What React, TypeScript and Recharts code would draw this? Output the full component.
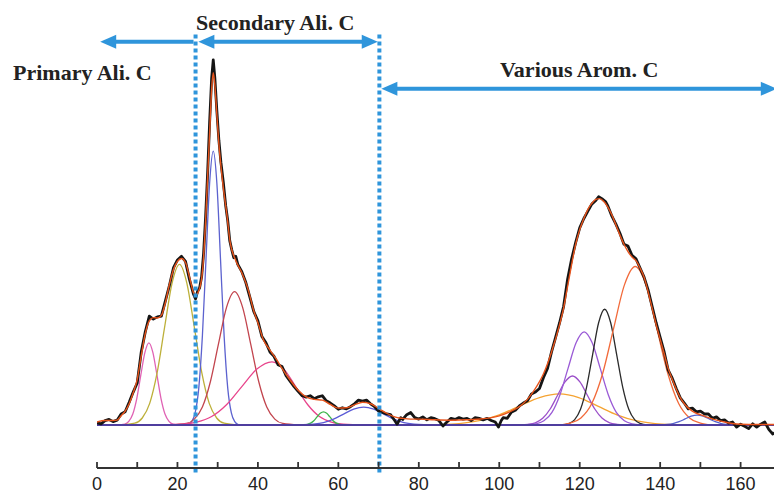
import { LineChart, Line, XAxis, YAxis, ReferenceLine } from "recharts";

// ppm ticks (minor every 10, labelled every 20)
const ppmTicks = [0, 10, 20, 30, 40, 50, 60, 70, 80, 90, 100, 110, 120, 130, 140, 150, 160];

// measured 13C spectrum [ppm, intensity]
const measured: [number, number][] = [
  [0, 0.006], [1, 0.003], [2, 0.012], [3, 0.015], [4, 0.009], [5, 0.013], [6, 0.03], [7, 0.036],
  [8, 0.062], [9, 0.09], [10, 0.115], [11, 0.2], [12, 0.255], [13, 0.298], [14, 0.29], [15, 0.296],
  [16, 0.298], [17, 0.34], [18, 0.382], [19, 0.43], [20, 0.452], [21, 0.462], [22, 0.448], [23, 0.398],
  [24, 0.358], [24.5, 0.345], [25, 0.366], [25.5, 0.375], [26, 0.405], [26.5, 0.47], [27, 0.57],
  [27.5, 0.69], [28, 0.83], [28.5, 0.95], [28.9, 1.0], [29.3, 0.95], [29.8, 0.86], [30.3, 0.78],
  [30.8, 0.72], [31.4, 0.665], [32, 0.6], [32.5, 0.56], [33, 0.505], [33.5, 0.48], [34, 0.458],
  [34.5, 0.462], [35, 0.44], [36, 0.42], [37, 0.39], [38, 0.35], [39, 0.31], [40, 0.285], [41, 0.242],
  [42, 0.225], [43, 0.2], [44, 0.188], [45, 0.165], [46, 0.16], [47, 0.135], [48, 0.12], [49, 0.105],
  [50, 0.092], [51, 0.08], [52, 0.076], [53, 0.08], [54, 0.072], [55, 0.077], [56, 0.08], [57, 0.066],
  [58, 0.06], [59, 0.052], [60, 0.043], [61, 0.047], [62, 0.044], [63, 0.05], [64, 0.058], [65, 0.068],
  [66, 0.065], [67, 0.068], [68, 0.058], [69, 0.05], [70, 0.038], [71, 0.034], [72, 0.03], [73, 0.028],
  [74, 0.012], [74.6, 0.002], [75.5, 0.02], [76, 0.015], [77, 0.028], [78, 0.034], [79, 0.02],
  [80, 0.016], [81, 0.022], [82, 0.014], [83, 0.02], [84, 0.017], [85, 0.012], [86, -0.003], [87, 0.008],
  [88, 0.018], [89, 0.015], [90, 0.02], [91, 0.016], [92, 0.018], [93, 0.012], [94, 0.02], [95, 0.018],
  [96, 0.014], [97, 0.018], [98, 0.012], [99, 0.008], [99.8, -0.006], [100.5, 0.012], [101, 0.02],
  [102, 0.018], [103, 0.035], [104, 0.04], [105, 0.052], [106, 0.06], [107, 0.066], [108, 0.085],
  [109, 0.09], [110, 0.1], [111, 0.13], [112, 0.155], [113, 0.2], [114, 0.24], [115, 0.28], [116, 0.325],
  [117, 0.4], [118, 0.455], [119, 0.5], [120, 0.54], [121, 0.565], [122, 0.585], [123, 0.605],
  [124, 0.615], [124.7, 0.625], [125.5, 0.62], [126.4, 0.612], [127, 0.6], [128, 0.572], [129, 0.55],
  [130, 0.525], [131, 0.495], [132, 0.49], [133, 0.465], [134, 0.455], [135, 0.43], [136, 0.405],
  [137, 0.37], [138, 0.325], [139, 0.28], [140, 0.24], [141, 0.2], [142, 0.15], [143, 0.128], [144, 0.1],
  [145, 0.074], [146, 0.06], [147, 0.044], [148, 0.046], [149, 0.036], [150, 0.038], [151, 0.03],
  [152, 0.03], [153, 0.018], [154, 0.022], [155, 0.012], [156, 0.014], [157, 0.005], [158, 0.008],
  [159, -0.006], [160, 0.002], [161, -0.004], [162, -0.01], [163, 0.003], [164, -0.006], [165, 0.002],
  [166, 0.008], [167, -0.012], [168, -0.025], [168.3, -0.02],
];

// overall fitted envelope
const fitted: [number, number][] = [
  [0, 0.008], [2, 0.012], [4, 0.012], [5, 0.013], [6, 0.025], [7, 0.038], [8, 0.058], [9, 0.088],
  [10, 0.125], [11, 0.19], [12, 0.25], [13, 0.285], [14, 0.294], [15, 0.293], [16, 0.3], [17, 0.335],
  [18, 0.385], [19, 0.425], [20, 0.448], [21, 0.456], [22, 0.445], [23, 0.405], [24, 0.362],
  [24.5, 0.354], [25, 0.36], [26, 0.4], [26.5, 0.46], [27, 0.56], [27.5, 0.68], [28, 0.8], [28.5, 0.92],
  [28.9, 0.965], [29.3, 0.93], [29.8, 0.85], [30.3, 0.77], [30.8, 0.71], [31.4, 0.65], [32.3, 0.575],
  [33.1, 0.5], [34.3, 0.455], [36, 0.417], [37.6, 0.37], [38.9, 0.315], [40, 0.28], [41.3, 0.235],
  [43, 0.205], [44.7, 0.178], [46, 0.155], [48, 0.123], [50, 0.095], [52, 0.077], [54, 0.07],
  [56, 0.068], [58, 0.056], [60, 0.046], [62, 0.047], [64, 0.055], [66, 0.062], [68, 0.058], [70, 0.045],
  [72, 0.032], [74, 0.022], [76, 0.018], [78, 0.016], [80, 0.016], [84, 0.014], [88, 0.013], [92, 0.014],
  [96, 0.017], [100, 0.025], [103, 0.038], [105, 0.05], [107, 0.07], [109, 0.1], [111, 0.14], [113, 0.2],
  [115, 0.275], [116, 0.32], [117, 0.38], [118, 0.44], [119, 0.495], [120, 0.535], [121, 0.565],
  [122, 0.59], [123, 0.607], [124, 0.618], [125, 0.62], [126, 0.612], [127, 0.597], [128, 0.575],
  [129, 0.548], [130, 0.52], [131, 0.495], [132, 0.475], [133, 0.46], [134, 0.45], [135, 0.43],
  [136, 0.405], [137, 0.365], [138, 0.32], [139, 0.275], [140, 0.235], [141, 0.195], [142, 0.155],
  [143, 0.125], [144, 0.098], [145, 0.075], [146, 0.058], [147, 0.046], [148, 0.038], [149, 0.032],
  [150, 0.028], [152, 0.02], [154, 0.013], [156, 0.008], [158, 0.004], [160, 0.002], [164, 0.001],
  [168.3, 0.001],
];

// deconvoluted peaks
const peak13: [number, number][] = [
  [4.9, 0], [6.9, 0.0025], [7.9, 0.0099], [8.9, 0.03], [9.9, 0.073], [10.9, 0.137], [11.9, 0.198],
  [12.9, 0.225], [13.9, 0.198], [14.9, 0.137], [15.9, 0.073], [16.9, 0.03], [17.9, 0.0099], [18.9, 0.0025], [20.9, 0],
];
const peak20: [number, number][] = [
  [5.7, 0], [9.4, 0.0048], [11.25, 0.019], [13.1, 0.059], [14.95, 0.143], [16.8, 0.267], [18.65, 0.388],
  [20.5, 0.44], [22.35, 0.388], [24.2, 0.267], [26.05, 0.143], [27.9, 0.059], [29.75, 0.019], [31.6, 0.0048], [35.3, 0],
];
const peak29: [number, number][] = [
  [22.6, 0], [23.5, 0.0083], [24.4, 0.033], [25.3, 0.101], [26.2, 0.244], [27.1, 0.455], [28.0, 0.662],
  [28.9, 0.75], [29.8, 0.662], [30.7, 0.455], [31.6, 0.244], [32.5, 0.101], [33.4, 0.033], [34.3, 0.0083], [35.2, 0],
];
const peak34: [number, number][] = [
  [18.2, 0], [22.2, 0.004], [24.2, 0.016], [26.2, 0.049], [28.2, 0.119], [30.2, 0.222], [32.2, 0.322],
  [34.2, 0.365], [36.2, 0.322], [38.2, 0.222], [40.2, 0.119], [42.2, 0.049], [44.2, 0.016], [46.2, 0.004], [50.2, 0],
];
const peak43: [number, number][] = [
  [13.5, 0], [21, 0.0019], [24.75, 0.0076], [28.5, 0.023], [32.25, 0.056], [36, 0.105], [39.75, 0.153],
  [43.5, 0.173], [46.45, 0.153], [49.4, 0.105], [52.35, 0.056], [55.3, 0.023], [58.25, 0.0076], [61.2, 0.0019], [67.1, 0],
];
const peak56: [number, number][] = [
  [50.7, 0], [51.5, 0.0004], [52.3, 0.0016], [53.1, 0.0049], [53.9, 0.0117], [54.7, 0.0219], [55.5, 0.0318],
  [56.3, 0.036], [57.1, 0.0318], [57.9, 0.0219], [58.7, 0.0117], [59.5, 0.0049], [60.3, 0.0016], [61.1, 0.0004], [61.9, 0],
];
const peak66: [number, number][] = [
  [48.8, 0], [51.3, 0.0005], [53.8, 0.0022], [56.3, 0.0066], [58.8, 0.0159], [61.3, 0.0297], [63.8, 0.0432],
  [66.3, 0.049], [68.8, 0.0432], [71.3, 0.0297], [73.8, 0.0159], [76.3, 0.0066], [78.8, 0.0022], [81.3, 0.0005], [83.8, 0],
];
const peak115: [number, number][] = [
  [80, 0], [85, 0.0009], [90, 0.0037], [95, 0.0115], [100, 0.0276], [105, 0.0516], [110, 0.075],
  [115, 0.085], [119.75, 0.075], [124.5, 0.0516], [129.25, 0.0276], [134, 0.0115], [138.75, 0.0037], [143.5, 0.0009], [148, 0],
];
const peak118: [number, number][] = [
  [105.3, 0], [107.1, 0.0015], [108.95, 0.0059], [110.8, 0.0181], [112.65, 0.0436], [114.5, 0.0813], [116.35, 0.118],
  [118.2, 0.134], [120.05, 0.118], [121.9, 0.0813], [123.75, 0.0436], [125.6, 0.0181], [127.45, 0.0059], [129.3, 0.0015], [131.1, 0],
];
const peak121: [number, number][] = [
  [107.1, 0], [109.1, 0.0028], [111.1, 0.0112], [113.1, 0.0344], [115.1, 0.0829], [117.1, 0.155], [119.1, 0.225],
  [121.1, 0.255], [123.1, 0.225], [125.1, 0.155], [127.1, 0.0829], [129.1, 0.0344], [131.1, 0.0112], [133.1, 0.0028], [135.1, 0],
];
const peak126: [number, number][] = [
  [115.7, 0], [117.2, 0.0035], [118.7, 0.0139], [120.2, 0.0428], [121.7, 0.103], [123.2, 0.192], [124.7, 0.28],
  [126.2, 0.317], [127.7, 0.28], [129.2, 0.192], [130.7, 0.103], [132.2, 0.0428], [133.7, 0.0139], [135.2, 0.0035], [136.7, 0],
];
const peak134: [number, number][] = [
  [114.9, 0], [117.6, 0.0048], [120.3, 0.0191], [123, 0.0586], [125.7, 0.141], [128.4, 0.263], [131.1, 0.383],
  [133.8, 0.434], [136.5, 0.383], [139.2, 0.263], [141.9, 0.141], [144.6, 0.0586], [147.3, 0.0191], [150, 0.0048], [152.7, 0],
];
const peak149: [number, number][] = [
  [138.7, 0], [140.2, 0.0003], [141.7, 0.0012], [143.2, 0.0036], [144.7, 0.0088], [146.2, 0.0164], [147.7, 0.0238],
  [149.2, 0.027], [150.7, 0.0238], [152.2, 0.0164], [153.7, 0.0088], [155.2, 0.0036], [156.7, 0.0012], [158.2, 0.0003], [159.7, 0],
];
const baseline: [number, number][] = [[0, 0], [168.3, 0]];

const components = [
  { name: "p13", pts: peak13, color: "#E062B4" },
  { name: "p20", pts: peak20, color: "#BDB03A" },
  { name: "p29", pts: peak29, color: "#5C62CF" },
  { name: "p34", pts: peak34, color: "#C2454E" },
  { name: "p43", pts: peak43, color: "#E8458C" },
  { name: "p56", pts: peak56, color: "#3DB54A" },
  { name: "p66", pts: peak66, color: "#5B5BD6" },
  { name: "p115", pts: peak115, color: "#F5A332" },
  { name: "p118", pts: peak118, color: "#9B4FC9" },
  { name: "p121", pts: peak121, color: "#9A5AD6" },
  { name: "p126", pts: peak126, color: "#2B2B2B" },
  { name: "p134", pts: peak134, color: "#F26A3A" },
  { name: "p149", pts: peak149, color: "#5562CF" },
];

// region markers (ppm) and arrow rows (intensity units)
const regionBounds = [24.5, 70.2];
const arrowRowTop = 1.05;
const arrowRowArom = 0.921;

const BLUE = "#2F95DB";
const toPts = (a: [number, number][]) => a.map(([x, y]) => ({ x, y }));

const AxisTick = (props: any) => {
  const { x, y, payload } = props;
  const major = payload.value % 20 === 0;
  return (
    <g>
      <line x1={x} x2={x} y1={y} y2={y - 6} stroke="#333" strokeWidth={1.8} />
      {major && (
        <text x={x} y={y + 22} textAnchor="middle" fontSize={18} fill="#222"
          fontFamily="'Liberation Sans', Arial, sans-serif">
          {payload.value}
        </text>
      )}
    </g>
  );
};

const arrowShape = (leftHead: boolean, rightHead: boolean) => (p: any) => {
  const { x1, y1, x2, y2 } = p;
  const L = 16, W = 7;
  return (
    <g>
      <line x1={leftHead ? x1 + 10 : x1} y1={y1} x2={rightHead ? x2 - 10 : x2} y2={y2}
        stroke={BLUE} strokeWidth={4} />
      {leftHead && <polygon points={`${x1},${y1} ${x1 + L},${y1 - W} ${x1 + L},${y1 + W}`} fill={BLUE} />}
      {rightHead && <polygon points={`${x2},${y2} ${x2 - L},${y2 - W} ${x2 - L},${y2 + W}`} fill={BLUE} />}
    </g>
  );
};

export default function App() {
  const serif = "'Liberation Serif', 'Times New Roman', serif";
  return (
    <div style={{ position: "absolute", left: 0, top: 0, width: 774, height: 495, background: "#fff" }}>
      <LineChart width={774} height={495} margin={{ top: 30, right: 0, bottom: 0, left: 97 }}>
        <XAxis dataKey="x" type="number" domain={[0, 168.3]} ticks={ppmTicks} interval={0}
          allowDataOverflow height={27} tickLine={false} tickSize={0} tickMargin={0}
          axisLine={{ stroke: "#333", strokeWidth: 2 }} tick={<AxisTick />} />
        <YAxis hide type="number" domain={[-0.118, 1.082]} allowDataOverflow />
        {components.map((c) => (
          <Line key={c.name} data={toPts(c.pts)} dataKey="y" type="monotone" stroke={c.color}
            strokeWidth={1.3} dot={false} activeDot={false} isAnimationActive={false} />
        ))}
        <Line data={toPts(baseline)} dataKey="y" type="linear" stroke="#4F3E9E" strokeWidth={2}
          dot={false} activeDot={false} isAnimationActive={false} />
        <Line data={toPts(measured)} dataKey="y" type="linear" stroke="#151515" strokeWidth={2.8}
          strokeLinejoin="round" dot={false} activeDot={false} isAnimationActive={false} />
        <Line data={toPts(fitted)} dataKey="y" type="monotone" stroke="#E8541C" strokeWidth={1.4}
          dot={false} activeDot={false} isAnimationActive={false} />
        {regionBounds.map((b) => (
          <ReferenceLine key={b} ifOverflow="visible" stroke={BLUE} strokeWidth={4} strokeDasharray="4 3"
            segment={[{ x: b, y: 1.07 }, { x: b, y: -0.13 }]} />
        ))}
        <ReferenceLine ifOverflow="visible" segment={[{ x: 0.8, y: arrowRowTop }, { x: 24, y: arrowRowTop }]}
          shape={arrowShape(true, false)} />
        <ReferenceLine ifOverflow="visible" segment={[{ x: 25.2, y: arrowRowTop }, { x: 69.8, y: arrowRowTop }]}
          shape={arrowShape(true, true)} />
        <ReferenceLine ifOverflow="visible" segment={[{ x: 70.7, y: arrowRowArom }, { x: 169, y: arrowRowArom }]}
          shape={arrowShape(true, true)} />
      </LineChart>
      <svg width={774} height={495} style={{ position: "absolute", left: 0, top: 0, pointerEvents: "none" }}>
        <g fontFamily={serif} fontWeight="bold" fontSize={22} fill="#222">
          <text x={196} y={30}>Secondary Ali. C</text>
          <text x={13} y={80}>Primary Ali. C</text>
          <text x={500} y={77}>Various Arom. C</text>
        </g>
      </svg>
    </div>
  );
}
